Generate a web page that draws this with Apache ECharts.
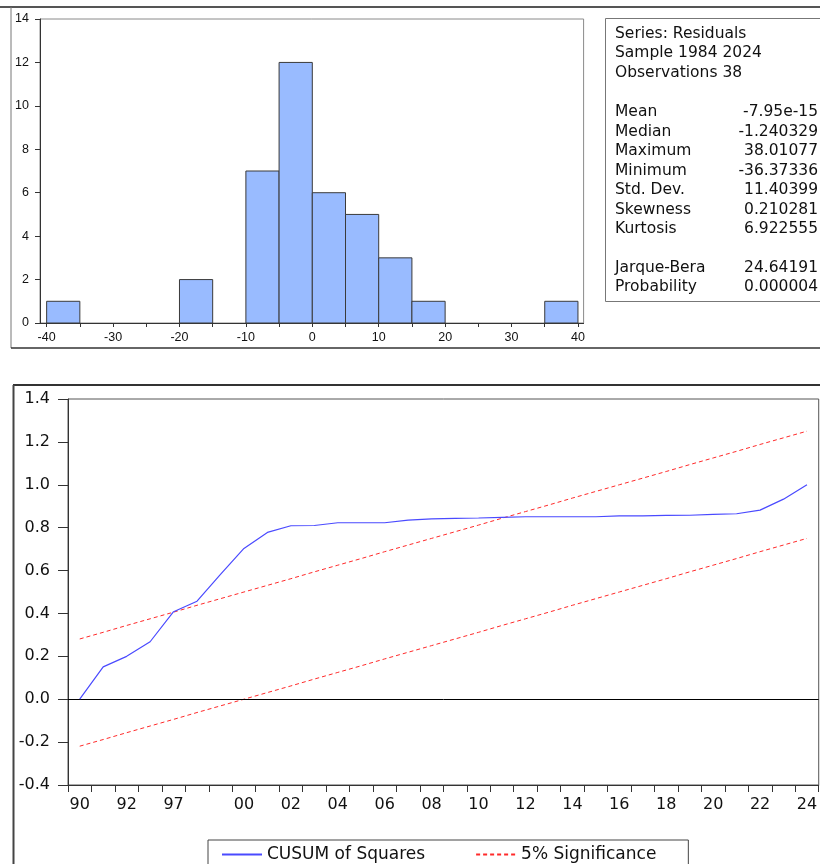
<!DOCTYPE html>
<html>
<head>
<meta charset="utf-8">
<script src="https://cdn.jsdelivr.net/npm/echarts@6/dist/echarts.min.js"></script>
<style>
html,body{margin:0;padding:0;background:#fff;}
#chart{width:820px;height:864px;}
</style>
</head>
<body>
<div id="chart"></div>
<script>
// ---------- Histogram of residuals ----------
const histBinStart = [-40, -35, -30, -25, -20, -15, -10, -5, 0, 5, 10, 15, 20, 25, 30, 35];
const histBinWidth = 5;
const histCounts   = [1, 0, 0, 0, 2, 0, 7, 12, 6, 5, 3, 1, 0, 0, 0, 1];
const histXTicks   = [-40, -35, -30, -25, -20, -15, -10, -5, 0, 5, 10, 15, 20, 25, 30, 35, 40];
const histXLabels  = [-40, -30, -20, -10, 0, 10, 20, 30, 40];

// ---------- Descriptive statistics ----------
const statHeader = ['Series: Residuals', 'Sample 1984 2024', 'Observations 38'];
const statNames  = ['Mean', 'Median', 'Maximum', 'Minimum', 'Std. Dev.', 'Skewness', 'Kurtosis'];
const statValues = ['-7.95e-15', '-1.240329', '38.01077', '-36.37336', '11.40399', '0.210281', '6.922555'];
const testNames  = ['Jarque-Bera', 'Probability'];
const testValues = ['24.64191', '0.000004'];

// ---------- CUSUM of squares ----------
const years = ['90','91','92','93','97','98','99','00','01','02','03','04','05','06','07','08',
               '09','10','11','12','13','14','15','16','17','18','19','20','21','22','23','24'];
const shownYearLabels = ['90','92','97','00','02','04','06','08','10','12','14','16','18','20','22','24'];
const cusumSq = [0.000, 0.151, 0.200, 0.268, 0.408, 0.457, 0.582, 0.703, 0.778, 0.809, 0.810, 0.823,
                 0.823, 0.823, 0.835, 0.841, 0.843, 0.845, 0.848, 0.851, 0.851, 0.851, 0.851, 0.855,
                 0.855, 0.857, 0.858, 0.862, 0.865, 0.882, 0.933, 1.000];
const upperBound = [0.281, 0.312, 0.344, 0.375, 0.406, 0.438, 0.469, 0.500, 0.531, 0.562, 0.594, 0.625,
                    0.656, 0.688, 0.719, 0.750, 0.781, 0.812, 0.844, 0.875, 0.906, 0.938, 0.969, 1.000,
                    1.031, 1.062, 1.094, 1.125, 1.156, 1.188, 1.219, 1.250];
const lowerBound = [-0.219, -0.188, -0.156, -0.125, -0.094, -0.062, -0.031, 0.000, 0.031, 0.062, 0.094, 0.125,
                    0.156, 0.188, 0.219, 0.250, 0.281, 0.312, 0.344, 0.375, 0.406, 0.438, 0.469, 0.500,
                    0.531, 0.562, 0.594, 0.625, 0.656, 0.688, 0.719, 0.750];

const FONT = "'Liberation Sans', Arial, sans-serif";
const WIDE = "'DejaVu Sans', 'Liberation Sans', sans-serif";
const chart = echarts.init(document.getElementById('chart'), null, {renderer: 'canvas'});

const histData = histBinStart.map((s, i) => [s, s + histBinWidth, histCounts[i]]);

// stats text graphics
const statGraphics = [];
const statFont = '15.5px ' + WIDE;
const headerY = [33.5, 53, 72.5];
const statY = [112, 131.5, 151, 170.5, 190, 209.5, 229];
const testY = [268, 287];
statHeader.forEach((t, i) => {
  statGraphics.push({type: 'text', x: 615, y: headerY[i],
    style: {text: t, font: statFont, fill: '#111', textVerticalAlign: 'middle'}});
});
statNames.forEach((t, i) => {
  statGraphics.push({type: 'text', x: 615, y: statY[i], style: {text: t, font: statFont, fill: '#111', textVerticalAlign: 'middle'}});
  statGraphics.push({type: 'text', x: 818, y: statY[i], style: {text: statValues[i], font: statFont, fill: '#111', textAlign: 'right', textVerticalAlign: 'middle'}});
});
testNames.forEach((t, i) => {
  statGraphics.push({type: 'text', x: 615, y: testY[i], style: {text: t, font: statFont, fill: '#111', textVerticalAlign: 'middle'}});
  statGraphics.push({type: 'text', x: 818, y: testY[i], style: {text: testValues[i], font: statFont, fill: '#111', textAlign: 'right', textVerticalAlign: 'middle'}});
});

const option = {
  animation: false,
  backgroundColor: '#ffffff',
  textStyle: {fontFamily: FONT},
  grid: [
    {left: 40, top: 19, width: 543.6, height: 304, show: true, borderColor: '#8a8a8a', borderWidth: 1, backgroundColor: 'transparent'},
    {left: 68, top: 399, width: 760.7, height: 386, show: true, borderColor: '#555', borderWidth: 1, backgroundColor: 'transparent'}
  ],
  xAxis: [
    {
      gridIndex: 0, type: 'value', min: -41, max: 40.85,
      axisLine: {show: true, onZero: false, lineStyle: {color: '#333', width: 1}},
      axisTick: {show: true, inside: false, length: 4, customValues: histXTicks, lineStyle: {color: '#333'}},
      axisLabel: {show: true, customValues: histXLabels, margin: 8, fontSize: 12.5, color: '#111', fontFamily: FONT},
      splitLine: {show: false}
    },
    {
      gridIndex: 1, type: 'category', data: years, boundaryGap: true,
      axisLine: {show: true, onZero: false, lineStyle: {color: '#333', width: 1}},
      axisTick: {show: true, inside: false, length: 7, interval: 0, alignWithLabel: false, lineStyle: {color: '#333'}},
      axisLabel: {
        show: true, margin: 12, fontSize: 16, color: '#111', fontFamily: WIDE,
        interval: function (idx, val) { return shownYearLabels.indexOf(val) >= 0; }
      },
      splitLine: {show: false}
    }
  ],
  yAxis: [
    {
      gridIndex: 0, type: 'value', min: 0, max: 14, interval: 2,
      axisLine: {show: true, onZero: false, lineStyle: {color: '#333', width: 1}},
      axisTick: {show: true, inside: false, length: 5, lineStyle: {color: '#333'}},
      axisLabel: {margin: 11, fontSize: 12.5, color: '#111', fontFamily: FONT},
      splitLine: {show: false}
    },
    {
      gridIndex: 1, type: 'value', min: -0.4, max: 1.4, interval: 0.2,
      axisLine: {show: true, onZero: false, lineStyle: {color: '#333', width: 1}},
      axisTick: {show: true, inside: false, length: 10, lineStyle: {color: '#333'}},
      axisLabel: {margin: 18, fontSize: 16, color: '#111', fontFamily: WIDE,
        formatter: function (v) { return v.toFixed(1); }},
      splitLine: {show: false}
    }
  ],
  legend: {
    left: 208, top: 840,
    padding: [6, 32, 20, 13],
    borderColor: '#444', borderWidth: 1,
    itemWidth: 40, itemHeight: 14, itemGap: 50,
    itemStyle: {opacity: 0},
    textStyle: {fontSize: 17, color: '#111', fontFamily: WIDE},
    data: ['CUSUM of Squares', '5% Significance']
  },
  series: [
    {
      type: 'custom', xAxisIndex: 0, yAxisIndex: 0,
      data: histData,
      encode: {x: [0, 1], y: 2},
      renderItem: function (params, api) {
        const h = api.value(2);
        if (!h) return null;
        const p0 = api.coord([api.value(0), h]);
        const p1 = api.coord([api.value(1), 0]);
        return {
          type: 'rect',
          shape: {x: p0[0], y: p0[1], width: p1[0] - p0[0], height: p1[1] - p0[1]},
          style: {fill: '#99bbff', stroke: '#3a3a3a', lineWidth: 1}
        };
      }
    },
    {
      name: 'CUSUM of Squares', type: 'line', xAxisIndex: 1, yAxisIndex: 1,
      data: cusumSq, symbol: 'none', z: 5,
      lineStyle: {color: '#4a4aff', width: 1.2},
      itemStyle: {color: '#4a4aff'},
      markLine: {
        silent: true, symbol: 'none', label: {show: false},
        lineStyle: {color: '#000', width: 1, type: 'solid'},
        data: [{yAxis: 0}]
      }
    },
    {
      name: '5% Significance', type: 'line', xAxisIndex: 1, yAxisIndex: 1,
      data: upperBound, symbol: 'none', z: 4,
      lineStyle: {color: '#ff2a2a', width: 1, type: [4, 3]},
      itemStyle: {color: '#ff2a2a'}
    },
    {
      name: '5% Significance', type: 'line', xAxisIndex: 1, yAxisIndex: 1,
      data: lowerBound, symbol: 'none', z: 4,
      lineStyle: {color: '#ff2a2a', width: 1, type: [4, 3]},
      itemStyle: {color: '#ff2a2a'}
    }
  ],
  graphic: [
    // top panel frame
    {type: 'line', shape: {x1: 0, y1: 7, x2: 820, y2: 7}, style: {stroke: '#555', lineWidth: 2}},
    {type: 'line', shape: {x1: 11, y1: 7, x2: 11, y2: 348}, style: {stroke: '#777', lineWidth: 1}},
    {type: 'line', shape: {x1: 11, y1: 348, x2: 820, y2: 348}, style: {stroke: '#333', lineWidth: 1.5}},
    // stats box
    {type: 'rect', shape: {x: 605.5, y: 18.5, width: 230, height: 283}, style: {fill: 'none', stroke: '#777', lineWidth: 1}},
    // bottom panel frame
    {type: 'line', shape: {x1: 13, y1: 385, x2: 820, y2: 385}, style: {stroke: '#333', lineWidth: 2}},
    {type: 'line', shape: {x1: 13.5, y1: 385, x2: 13.5, y2: 864}, style: {stroke: '#444', lineWidth: 2}}
  ].concat(statGraphics)
};
chart.setOption(option);
</script>
</body>
</html>
